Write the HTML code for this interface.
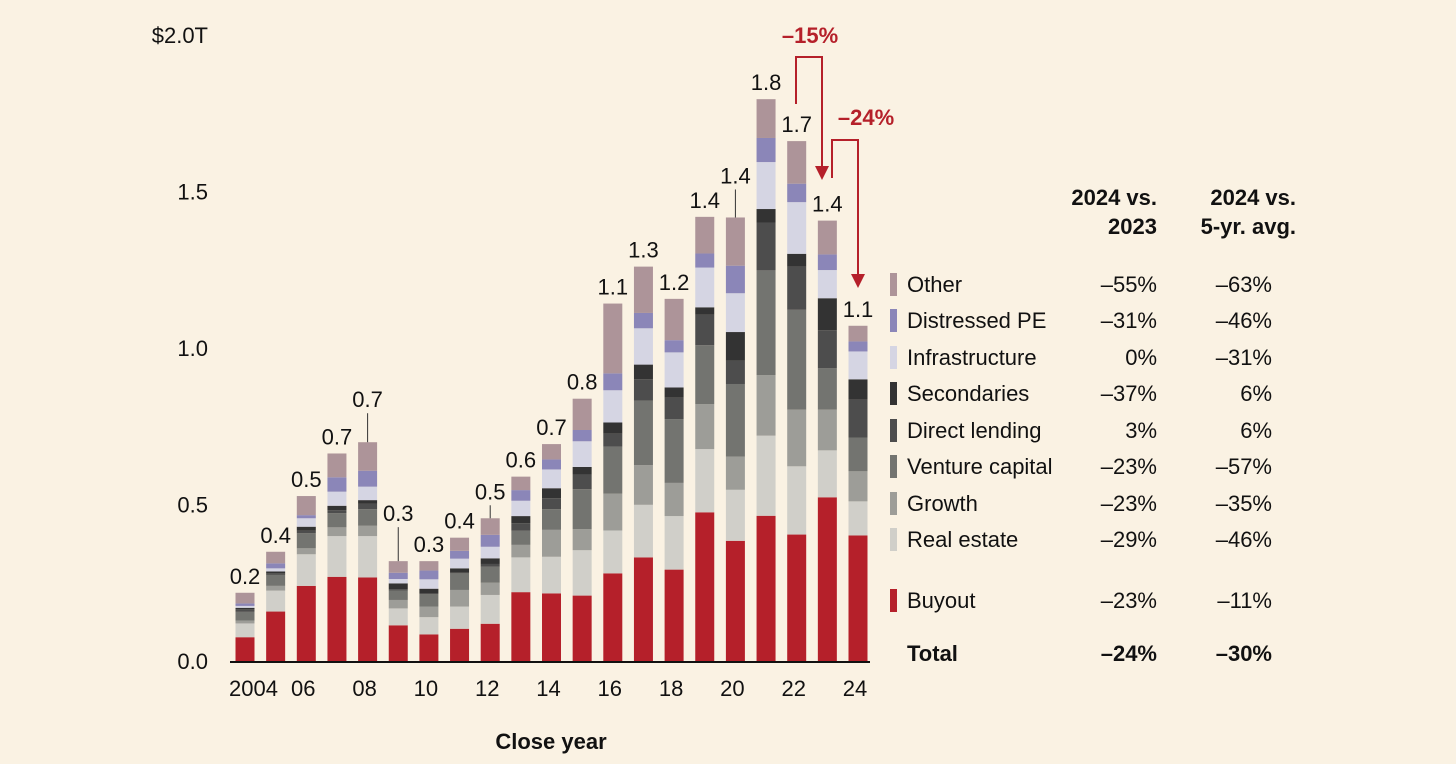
<!DOCTYPE html>
<html><head><meta charset="utf-8">
<style>
html,body{margin:0;padding:0;background:#faf2e3;}
svg{display:block;font-family:"Liberation Sans",sans-serif;}
</style></head>
<body>
<svg id="chart" width="1456" height="764" viewBox="0 0 1456 764">
<rect x="0" y="0" width="1456" height="764" fill="#faf2e3"/>
<g id="yaxis"></g>
<g id="bars"></g>
<g id="labels"></g>
<g id="xaxis"></g>
<text x="551" y="749" font-size="22" font-weight="bold" text-anchor="middle" fill="#111">Close year</text>
<g stroke="#b5202a" stroke-width="2" fill="none">
<polyline points="796,104 796,57 822,57 822,170"/>
<polygon points="815,166 829,166 822,180" fill="#b5202a" stroke="none"/>
<polyline points="832,178 832,140 858,140 858,278"/>
<polygon points="851,274 865,274 858,288" fill="#b5202a" stroke="none"/>
</g>
<text x="810" y="43" font-size="22" font-weight="bold" fill="#b5202a" text-anchor="middle">–15%</text>
<text x="866" y="125" font-size="22" font-weight="bold" fill="#b5202a" text-anchor="middle">–24%</text>
<g id="legend"></g>
</svg>
<script>
const years = ["2004","2005","2006","2007","2008","2009","2010","2011","2012","2013","2014","2015","2016","2017","2018","2019","2020","2021","2022","2023","2024"];
const xTickLabels = ["2004","","06","","08","","10","","12","","14","","16","","18","","20","","22","","24"];
const seriesNames = ["Buyout","Real estate","Growth","Venture capital","Direct lending","Secondaries","Infrastructure","Distressed PE","Other"];
const seriesColors = ["#b5202a","#d0cfc9","#9d9d98","#737470","#4d4d4d","#333333","#d5d5e3","#8b86b8","#ad9499"];
const buyout = [.076,.158,.240,.269,.267,.114,.085,.103,.119,.220,.216,.209,.280,.331,.292,.475,.384,.464,.404,.523,.401];
const realEstate = [.044,.067,.101,.130,.132,.054,.055,.071,.092,.111,.117,.145,.137,.168,.171,.202,.163,.256,.218,.150,.109];
const growth = [.009,.015,.019,.028,.033,.027,.034,.053,.039,.040,.086,.067,.118,.127,.106,.144,.106,.193,.181,.130,.096];
const ventureCapital = [.028,.035,.048,.045,.053,.030,.040,.053,.051,.045,.066,.128,.150,.206,.204,.188,.232,.335,.319,.133,.108];
const directLending = [.008,.005,.008,.010,.017,.004,.002,.002,.009,.024,.035,.047,.041,.068,.068,.097,.074,.153,.138,.121,.121];
const secondaries = [.005,.006,.013,.014,.012,.019,.015,.014,.018,.023,.032,.024,.036,.047,.033,.024,.092,.043,.041,.102,.065];
const infrastructure = [.006,.010,.027,.045,.043,.014,.030,.031,.037,.049,.060,.082,.103,.116,.112,.127,.124,.150,.165,.090,.089];
const distressed = [.008,.016,.010,.046,.051,.020,.028,.025,.038,.034,.032,.036,.054,.049,.039,.045,.088,.077,.059,.050,.032];
const other = [.034,.037,.061,.076,.091,.037,.030,.042,.053,.043,.049,.100,.223,.148,.132,.117,.154,.124,.136,.108,.050];
const totalLabels = ["0.2","0.4","0.5","0.7","0.7","0.3","0.3","0.4","0.5","0.6","0.7","0.8","1.1","1.3","1.2","1.4","1.4","1.8","1.7","1.4","1.1"];
const leaderLengths = [0,0,0,0,26,31,0,0,10,0,0,0,0,0,0,0,25,0,0,0,0];
const yTicks = [0,0.5,1.0,1.5,2.0];
const yTickLabels = ["0.0","0.5","1.0","1.5","$2.0T"];
const legendRows = ["Other","Distressed PE","Infrastructure","Secondaries","Direct lending","Venture capital","Growth","Real estate","Buyout"];
const legendColors = ["#ad9499","#8b86b8","#d5d5e3","#333333","#4d4d4d","#737470","#9d9d98","#d0cfc9","#b5202a"];
const vs2023 = ["–55%","–31%","0%","–37%","3%","–23%","–23%","–29%","–23%"];
const vs5yr = ["–63%","–46%","–31%","6%","6%","–57%","–35%","–46%","–11%"];
const totalVs2023 = "–24%";
const totalVs5yr = "–30%";

const series = [buyout,realEstate,growth,ventureCapital,directLending,secondaries,infrastructure,distressed,other];
const NS="http://www.w3.org/2000/svg";
const y0=661, pxPer=313, x0=245, step=30.65, bw=19;
const yScale=v=>y0-v*pxPer;
const xScale=i=>x0+i*step;
function mk(tag,attrs,parent,txt){const e=document.createElementNS(NS,tag);for(const k in attrs)e.setAttribute(k,attrs[k]);if(txt!==undefined)e.textContent=txt;parent.appendChild(e);return e;}

const ya=document.getElementById('yaxis');
yTicks.forEach((t,i)=>{
  const e=mk('text',{x:208,y:yScale(t)+8,'font-size':22,'text-anchor':'end',fill:'#111'},ya,yTickLabels[i]);
  
  
});

const bars=document.getElementById('bars');
const labs=document.getElementById('labels');
years.forEach((yr,i)=>{
  let cum=0;
  series.forEach((s,k)=>{
    const yt=yScale(cum+s[i]), yb=yScale(cum);
    const r=mk('rect',{x:xScale(i)-bw/2,y:yt,width:bw,height:Math.max(0,yb-yt),fill:seriesColors[k]},bars);
    
    
    cum+=s[i];
  });
  const top=yScale(cum);
  const lc=top-17-leaderLengths[i];
  if(leaderLengths[i]>0){
    const l=mk('line',{x1:xScale(i),x2:xScale(i),y1:lc+14,y2:top,stroke:'#333','stroke-width':1},labs);
    
    
  }
  const t=mk('text',{x:xScale(i),y:lc+8,'font-size':22,'text-anchor':'middle',fill:'#111'},labs,totalLabels[i]);
  
  
});

const xa=document.getElementById('xaxis');
const ax=mk('line',{x1:230,x2:870,y1:y0+1,y2:y0+1,stroke:'#111','stroke-width':2},xa);


xTickLabels.forEach((l,i)=>{
  if(!l)return;
  const t=mk('text',{x:i===0?xScale(i)+33:xScale(i)-3,y:696,'font-size':22,'text-anchor':i===0?'end':'middle',fill:'#111'},xa,l);
  
  
});

const lg=document.getElementById('legend');
[["2024 vs.","2023",1157],["2024 vs.","5-yr. avg.",1296]].forEach(h=>{
  const a=mk('text',{x:h[2],y:205,'font-size':22,'font-weight':'bold','text-anchor':'end',fill:'#111'},lg,h[0]);
  
  
  const b=mk('text',{x:h[2],y:234,'font-size':22,'font-weight':'bold','text-anchor':'end',fill:'#111'},lg,h[1]);
  
  
});
const rowY=[284,320,357,393,430,466,503,539,600];
legendRows.forEach((n,i)=>{
  const y=rowY[i];
  const s=mk('rect',{x:890,y:y-11,width:7,height:23,fill:legendColors[i]},lg);
  
  
  const t=mk('text',{x:907,y:y+8,'font-size':22,fill:'#111'},lg,n);
  
  
  const a=mk('text',{x:1157,y:y+8,'font-size':22,'text-anchor':'end',fill:'#111'},lg,vs2023[i]);
  
  
  const b=mk('text',{x:1272,y:y+8,'font-size':22,'text-anchor':'end',fill:'#111'},lg,vs5yr[i]);
  
  
});
const tt=mk('text',{x:907,y:661,'font-size':22,'font-weight':'bold',fill:'#111'},lg,"Total");


const ta=mk('text',{x:1157,y:661,'font-size':22,'font-weight':'bold','text-anchor':'end',fill:'#111'},lg,totalVs2023);


const tb=mk('text',{x:1272,y:661,'font-size':22,'font-weight':'bold','text-anchor':'end',fill:'#111'},lg,totalVs5yr);


</script>
</body></html>
